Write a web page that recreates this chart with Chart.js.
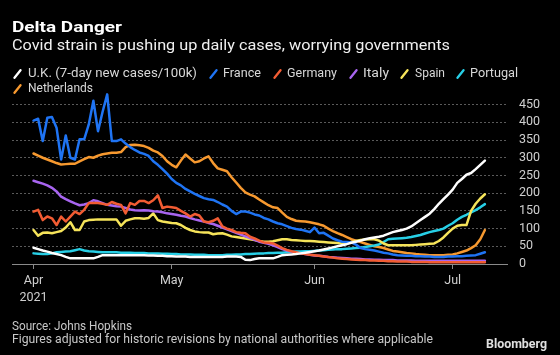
<!DOCTYPE html>
<html>
<head>
<meta charset="utf-8">
<script src="https://cdn.jsdelivr.net/npm/chart.js@4"></script>
<style>
  html, body { margin: 0; padding: 0; background: #000; }
  #wrap { position: relative; width: 560px; height: 355px; overflow: hidden; background: #000; }
  canvas { position: absolute; left: 0; top: 0; }
  .t { position: absolute; white-space: nowrap; font-family: Roboto, "Open Sans", sans-serif; transform-origin: 0 0; line-height: 1; }
  .ico { position: absolute; }
</style>
</head>
<body>
<div id="wrap">
  <canvas id="c" width="560" height="355"></canvas>
  <div class="t" data-w="110" style="left:12px;top:20px;font-size:15px;font-weight:700;color:#fff;">Delta Danger</div>
  <div class="t" data-w="438" style="left:12px;top:37.5px;font-size:15.5px;color:#f0f0f0;">Covid strain is pushing up daily cases, worrying governments</div>
  <div id="legend"></div>
  <div class="t" data-w="120" style="left:12px;top:320px;font-size:12px;color:#c8c8c8;">Source: Johns Hopkins</div>
  <div class="t" data-w="421" style="left:12px;top:332.5px;font-size:12px;color:#c8c8c8;">Figures adjusted for historic revisions by national authorities where applicable</div>
  <div class="t" data-w="61" style="left:486px;top:338px;font-size:12px;font-weight:700;color:#e0e0e0;">Bloomberg</div>
</div>
<script>
// ---- data (day 0 = Apr 1, 2021) ----
const seriesNames = ['U.K. (7-day new cases/100k)', 'France', 'Germany', 'Italy', 'Spain', 'Portugal', 'Netherlands'];
const seriesColors = ['#ffffff', '#1f74f4', '#f25c33', '#a865f0', '#f6e45a', '#27cfe6', '#f7992f'];

const uk = [46,42,38,35,31,28,25,20,16,16,16,16,16,16,20,25,25,25,25,25,25,25,25,25,25,24,24,23,23,22,22,21,21,21,20,20,20,20,20,20,20,20,21,21,21,20,12,11,14,16,16,16,16,20,25,26,27,28,30,32,34,36,38,41,44,47,50,53,56,60,63,66,70,73,75,77,80,85,90,93,96,100,106,115,124,133,142,155,170,183,196,210,229,240,252,257,268,280,292];
const france = [405,410,347,413,415,385,295,363,300,295,352,352,394,461,375,430,479,347,347,352,340,330,322,315,311,305,290,280,268,255,240,229,222,212,205,198,192,186,183,181,175,168,162,150,141,148,148,145,140,137,130,126,120,115,112,107,102,99,97,94,90,103,87,88,80,72,67,63,62,61,55,45,42,40,38,35,32,30,27,25,24,23,23,22,22,21,21,20,20,20,21,21,22,22,23,24,25,29,33];
const germany = [148,153,124,134,129,110,134,120,134,148,141,153,172,172,172,170,167,175,170,167,143,172,167,178,178,172,180,194,158,162,160,158,150,143,134,141,137,120,118,122,129,106,100,96,90,88,87,77,72,66,61,60,58,52,45,40,36,33,30,28,26,25,23,21,20,18,16,15,14,13,12,11,11,10,10,9,9,8,8,7,7,7,6,6,6,6,5,5,5,5,5,5,5,5,5,5,5,5,5];
const italy = [235,231,227,222,215,205,190,183,177,171,166,168,172,180,177,172,167,165,163,162,158,154,152,151,152,151,149,148,146,143,141,139,136,134,130,126,123,120,116,113,108,103,98,93,88,83,78,73,68,63,60,57,53,48,42,38,35,32,30,28,26,24,23,22,20,19,18,17,16,15,15,14,13,13,12,12,11,11,11,10,10,10,10,9,9,9,9,9,9,9,9,9,9,9,9,9,9,9,9];
const spain = [96,80,88,89,87,90,93,103,118,96,96,120,124,125,126,126,126,126,126,108,122,126,129,129,128,130,143,124,120,118,116,115,110,102,96,92,90,89,89,84,86,87,83,78,76,74,72,70,68,65,63,63,64,67,70,70,68,67,66,65,65,64,63,62,61,60,59,58,59,62,65,68,69,70,70,66,58,53,53,53,53,53,53,54,55,56,57,58,65,75,88,100,108,110,110,150,170,185,197];
const portugal = [30,29,28,28,30,33,34,35,36,39,42,38,36,35,34,33,33,33,33,32,32,32,31,31,31,30,30,30,29,29,28,28,27,27,27,26,26,26,25,25,25,25,26,26,27,27,28,28,29,30,30,31,31,32,32,33,34,35,35,36,36,37,38,39,40,41,42,42,43,44,45,46,48,50,52,55,62,70,71,72,73,74,76,79,82,86,90,93,96,100,108,115,125,133,139,146,152,160,169];
const netherlands = [312,306,300,295,290,285,281,282,283,283,290,296,302,300,306,310,312,314,314,316,330,336,337,335,333,328,320,315,305,290,280,273,292,309,298,287,290,298,304,285,270,266,262,245,230,215,202,196,191,182,174,166,160,158,145,133,127,122,121,120,118,115,112,108,100,93,87,82,76,70,66,62,58,54,50,48,45,41,37,35,33,31,30,28,27,26,25,25,25,25,26,27,30,34,38,45,53,70,96];

const xTickDays = [0, 30, 61, 91];
const xTickLabels = [['Apr', '2021'], 'May', 'Jun', 'Jul'];
const yTickValues = [0, 50, 100, 150, 200, 250, 300, 350, 400, 450];

const allSeries = [uk, france, germany, italy, spain, portugal, netherlands];

// ---- legend (HTML text) ----
const legendPos = [
  {x: 13, y: 69, tx: 28, ty: 67, w: 169},
  {x: 209, y: 69, tx: 223, ty: 67, w: 38},
  {x: 273, y: 69, tx: 287, ty: 67, w: 50},
  {x: 349, y: 69, tx: 363, ty: 67, w: 26},
  {x: 400, y: 69, tx: 415, ty: 67, w: 30},
  {x: 456, y: 69, tx: 470, ty: 67, w: 48},
  {x: 13, y: 84, tx: 28, ty: 82, w: 65}
];
const legend = document.getElementById('legend');
seriesNames.forEach((n, i) => {
  const p = legendPos[i];
  const svg = document.createElementNS('http://www.w3.org/2000/svg', 'svg');
  svg.setAttribute('width', '10'); svg.setAttribute('height', '10');
  svg.setAttribute('class', 'ico');
  svg.style.left = p.x + 'px'; svg.style.top = p.y + 'px';
  svg.innerHTML = `<line x1="1.5" y1="8.8" x2="7.5" y2="1.2" stroke="${seriesColors[i]}" stroke-width="2.3" stroke-linecap="round"/>`;
  legend.appendChild(svg);
  const d = document.createElement('div');
  d.className = 't';
  d.dataset.w = p.w;
  d.style.cssText = `left:${p.tx}px;top:${p.ty}px;font-size:12.5px;color:#d8d8d8;`;
  d.textContent = n;
  legend.appendChild(d);
});

document.querySelectorAll('[data-w]').forEach(el => {
  const w = el.getBoundingClientRect().width;
  const t = +el.dataset.w;
  if (w > 0) el.style.transform = `scaleX(${t / w})`;
});

// ---- chart ----
const datasets = allSeries.map((s, i) => ({
  label: seriesNames[i],
  data: s.map((v, d) => ({x: d, y: v})),
  borderColor: seriesColors[i],
  backgroundColor: seriesColors[i],
  borderWidth: 2.5,
  pointRadius: 0,
  tension: 0,
  fill: false,
  clip: false,
  borderJoinStyle: 'round',
  borderCapStyle: 'round'
}));

new Chart(document.getElementById('c').getContext('2d'), {
  type: 'line',
  data: { datasets },
  options: {
    responsive: false,
    animation: false,
    devicePixelRatio: 1,
    layout: { padding: { left: 12, top: 94, right: 0, bottom: 51 } },
    plugins: { legend: { display: false }, tooltip: { enabled: false } },
    scales: {
      x: {
        type: 'linear',
        min: -4.67,
        max: 102.8,
        afterBuildTicks: s => { s.ticks = xTickDays.map(v => ({ value: v })); },
        afterFit: s => { s.height = 40; },
        ticks: {
          callback: (v, i) => xTickLabels[i],
          color: '#cfcfcf',
          font: { family: 'Roboto', size: 12.5, lineHeight: 1.3 },
          padding: 4,
          maxRotation: 0,
          autoSkip: false
        },
        grid: { drawOnChartArea: false, drawTicks: true, tickLength: 5, color: '#8a8a8a' },
        border: { display: true, color: '#8a8a8a', width: 1 }
      },
      y: {
        position: 'right',
        min: 0,
        max: 480,
        afterBuildTicks: s => { s.ticks = yTickValues.map(v => ({ value: v })); },
        afterFit: s => { s.width = 53; },
        ticks: {
          color: '#cfcfcf',
          font: { family: 'Roboto', size: 12.5 },
          padding: 12
        },
        grid: { drawTicks: false, color: '#5a5a5a', lineWidth: 1 },
        border: { display: false, dash: [2, 2] }
      }
    }
  }
});
</script>
</body>
</html>
